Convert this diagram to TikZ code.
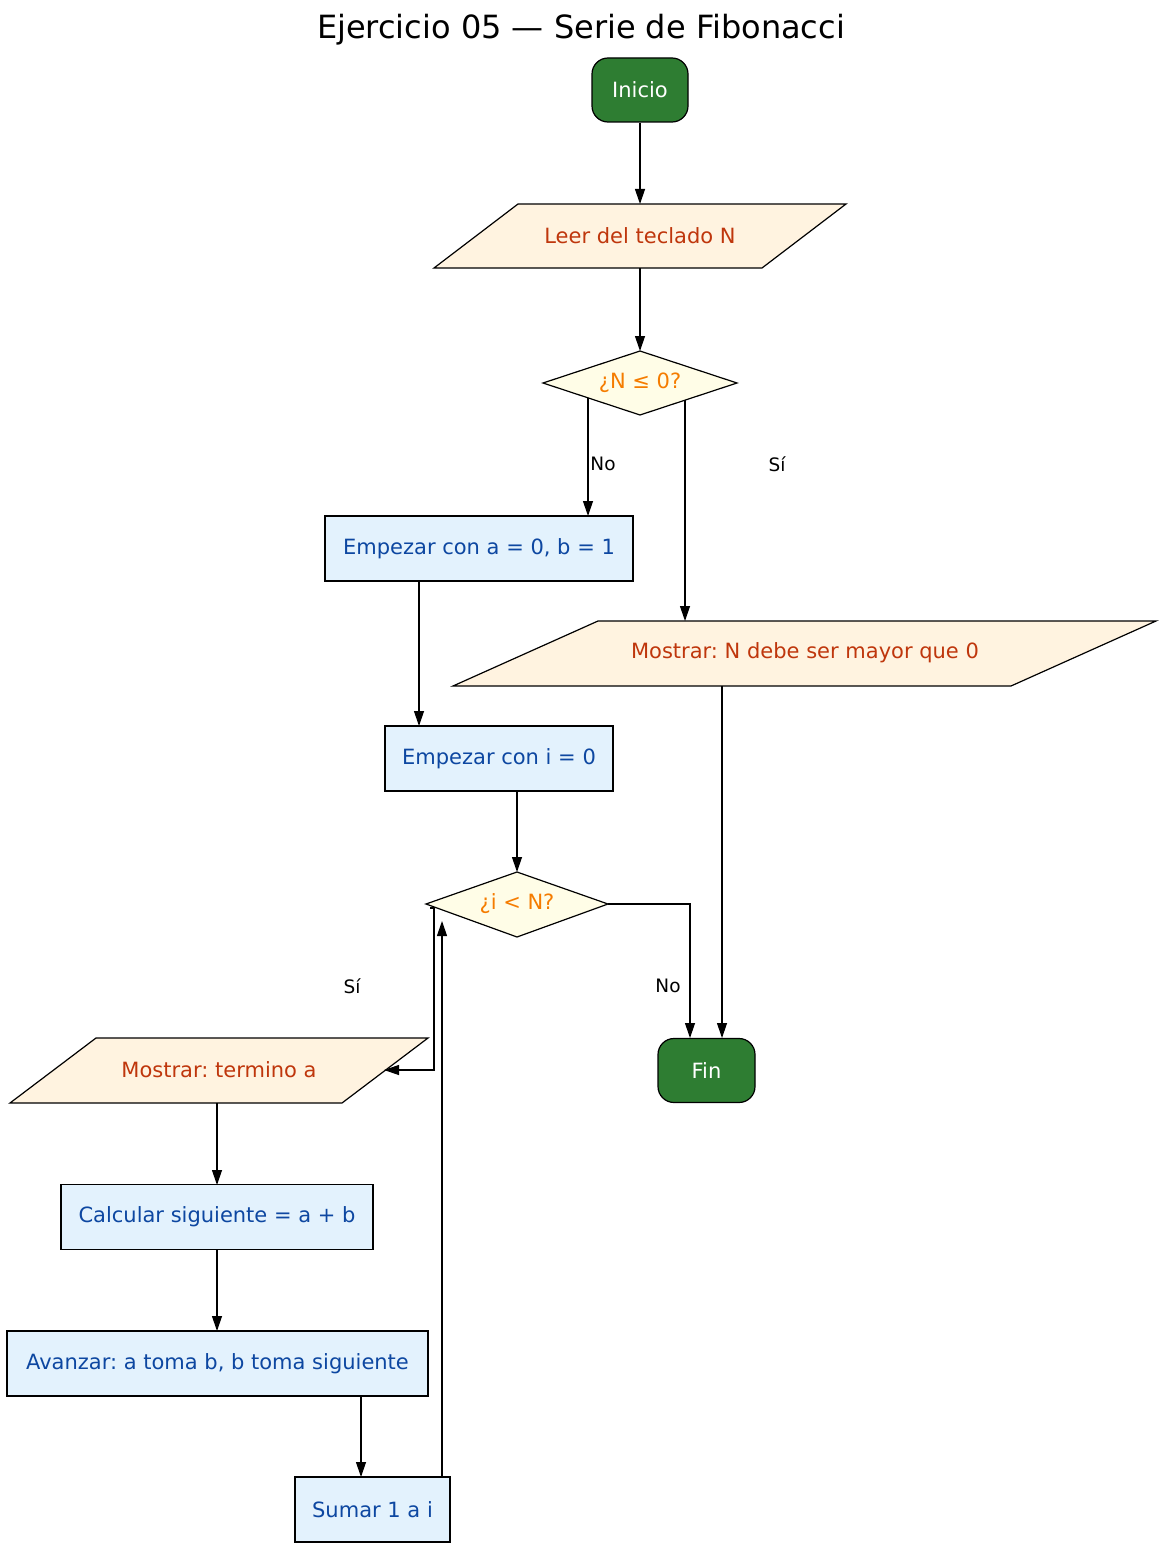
\documentclass[tikz,border=0pt]{standalone}
\usepackage{fontspec}
\setmainfont{DejaVu Sans}
\usetikzlibrary{arrows.meta,shapes.geometric}
\definecolor{gfill}{HTML}{2E7D32}
\definecolor{iofill}{HTML}{FFF3E0}
\definecolor{iotext}{HTML}{BF360C}
\definecolor{dfill}{HTML}{FFFDE7}
\definecolor{dtext}{HTML}{F57C00}
\definecolor{pfill}{HTML}{E3F2FD}
\definecolor{ptext}{HTML}{0D47A1}
\tikzset{
  txt/.style={font=\fontsize{21}{24}\selectfont, inner sep=0pt},
  term/.style={draw, fill=gfill, text=white, rounded corners=16pt, txt, minimum width=96pt, minimum height=64pt},
  proc/.style={draw, fill=pfill, text=ptext, txt, minimum height=65pt},
  lbl/.style={font=\fontsize{18.5}{22}\selectfont},
  arr/.style={-{Triangle[length=15pt,width=10pt]}, line width=1.2pt},
  box/.style={line width=1.2pt}
}
\frenchspacing
\begin{document}
\frenchspacing
\begin{tikzpicture}[x=1pt,y=-1pt]
\useasboundingbox (0,0) rectangle (1162,1549);
\node[font=\fontsize{32}{36}\selectfont] (title) at (581,30) {Ejercicio 05 — Serie de Fibonacci};
\node[term, box] (inicio) at (640,90) {Inicio};
% Leer
\draw[box, fill=iofill] (518,204) -- (846,204) -- (762,268) -- (434,268) -- cycle;
\node[txt, text=iotext] (leer) at (640,236) {Leer del teclado N};
% diamond 1
\draw[box, fill=dfill] (543,383) -- (640,351) -- (737,383) -- (640,415) -- cycle;
\node[txt, text=dtext] (d1) at (640,383) {¿N ≤ 0?};
\node[proc, box, minimum width=308pt] (ea) at (479,548.5) {Empezar con a = 0, b = 1};
% Mostrar N
\draw[box, fill=iofill] (598,621) -- (1156,621) -- (1011,686) -- (453,686) -- cycle;
\node[txt, text=iotext] (mn) at (805,653) {Mostrar: N debe ser mayor que 0};
\node[proc, box, minimum width=228pt] (ei) at (499,758.5) {Empezar con i = 0};
% diamond 2
\draw[box, fill=dfill] (426,904) -- (517,872) -- (608,904) -- (517,937) -- cycle;
\node[txt, text=dtext] (d2) at (517,904) {¿i < N?};
\node[term, box, minimum width=97pt] (fin) at (706.5,1070.5) {Fin};
% Mostrar termino
\draw[box, fill=iofill] (96,1038) -- (428,1038) -- (342,1103) -- (10,1103) -- cycle;
\node[txt, text=iotext] (mt) at (219,1070) {Mostrar: termino a};
\node[proc, box, minimum width=312pt] (calc) at (217,1217) {Calcular siguiente = a + b};
\node[proc, box, minimum width=421pt] (av) at (217.5,1363.5) {Avanzar: a toma b, b toma siguiente};
\node[proc, box, minimum width=155pt] (sum) at (372.5,1509.5) {Sumar 1 a i};
% edges
\draw[arr] (inicio.south) -- (640,204);
\draw[arr] (640,268) -- (640,351);
\draw[arr] (588,398) -- (588,516);
\node[lbl] at (603,464) {No};
\draw[arr] (685,400) -- (685,621);
\node[lbl] at (777,464) {Sí};
\draw[arr] (419,581) -- (419,726);
\draw[arr] (517,791) -- (517,872);
\draw[arr] (608,904) -- (690,904) -- (690,1038);
\node[lbl] at (668,986) {No};
\draw[arr] (722,686) -- (722,1038);
\draw[arr] (430,908) -- (434,908) -- (434,1070) -- (384,1070);
\node[lbl] at (352,986) {Sí};
\draw[arr] (217,1103) -- (217,1185);
\draw[arr] (217,1249) -- (217,1331);
\draw[arr] (361,1396) -- (361,1477);
\draw[arr] (442,1477) -- (442,921);
\end{tikzpicture}
\end{document}
